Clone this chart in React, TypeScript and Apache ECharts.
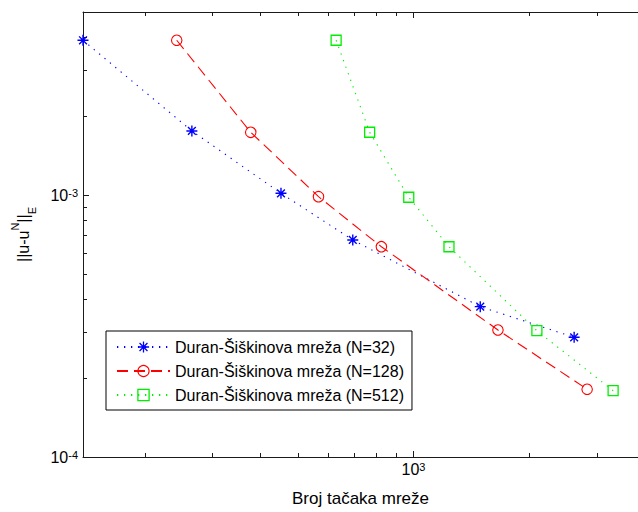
import React, { useEffect, useRef } from 'react';
import * as echarts from 'echarts';

// Axis limits
const X_MIN = 138;
const X_MAX = 3840;
const Y_MIN = 1e-4;
const Y_MAX = 5e-3;

const seriesNames = [
  'Duran-Šiškinova mreža (N=32)',
  'Duran-Šiškinova mreža (N=128)',
  'Duran-Šiškinova mreža (N=512)',
];

// Broj tačaka mreže (x) and error norm (y)
const xN32 = [138, 265, 452, 695, 1492, 2619];
const yN32 = [3.9e-3, 1.757e-3, 1.016e-3, 6.74e-4, 3.75e-4, 2.864e-4];
const xN128 = [242, 377, 566, 825, 1659, 2831];
const yN128 = [3.9e-3, 1.737e-3, 9.86e-4, 6.35e-4, 3.054e-4, 1.814e-4];
const xN512 = [629, 769, 972, 1237, 2095, 3308];
const yN512 = [3.9e-3, 1.737e-3, 9.81e-4, 6.35e-4, 3.035e-4, 1.791e-4];

// Tick values
const xMajorTicks = [1000];
const xMinorTicks = [200, 300, 400, 500, 600, 700, 800, 900, 2000, 3000];
const yMajorTicks = [1e-4, 1e-3];
const yMinorTicks = [2e-4, 3e-4, 4e-4, 5e-4, 6e-4, 7e-4, 8e-4, 9e-4, 2e-3, 3e-3, 4e-3];

const FONT = "'Liberation Sans', Arial, Helvetica, sans-serif";
const AXIS_COLOR = '#1a1a1a';

const STAR_PATH =
  'path://M6 0L6 12M0 6L12 6M1.76 1.76L10.24 10.24M10.24 1.76L1.76 10.24';

function pair(xs: number[], ys: number[]) {
  return xs.map((x, i) => [x, ys[i]]);
}

const powLabel = (v: number) => `{b|10}{e|${Math.round(Math.log10(v))}}`;

const labelRich = {
  b: { fontSize: 16, lineHeight: 16, padding: [7, 0, 7, 0], fontFamily: FONT, color: '#000' },
  e: { fontSize: 11, lineHeight: 12, verticalAlign: 'top', fontFamily: FONT, color: '#000' },
};

export default function App() {
  const ref = useRef<HTMLDivElement>(null);

  useEffect(() => {
    if (!ref.current) return;
    const chart = echarts.init(ref.current, undefined, { renderer: 'svg' });

    const baseX = {
      type: 'log',
      logBase: 10,
      min: X_MIN,
      max: X_MAX,
      gridIndex: 0,
      splitLine: { show: false },
      minorTick: { show: false },
    };
    const baseY = {
      type: 'log',
      logBase: 10,
      min: Y_MIN,
      max: Y_MAX,
      gridIndex: 0,
      splitLine: { show: false },
      minorTick: { show: false },
    };

    const option: any = {
      animation: false,
      backgroundColor: '#fff',
      textStyle: { fontFamily: FONT },
      grid: { left: 83, top: 12, right: 0, bottom: 55, outerBoundsMode: 'none', containLabel: false },
      xAxis: [
        {
          ...baseX,
          position: 'bottom',
          axisLine: { show: true, lineStyle: { color: AXIS_COLOR, width: 1 } },
          axisTick: { show: true, inside: true, length: 6, customValues: xMajorTicks, lineStyle: { color: AXIS_COLOR } },
          axisLabel: {
            show: true,
            customValues: xMajorTicks,
            margin: 4,
            formatter: powLabel,
            rich: labelRich,
          },
          name: 'Broj tačaka mreže',
          nameLocation: 'middle',
          nameGap: 33,
          nameTextStyle: { fontSize: 17, fontFamily: FONT, color: '#000' },
        },
        {
          ...baseX,
          position: 'bottom',
          axisLine: { show: false },
          axisTick: { show: true, inside: true, length: 4, customValues: xMinorTicks, lineStyle: { color: AXIS_COLOR } },
          axisLabel: { show: false },
        },
        {
          ...baseX,
          position: 'top',
          axisLine: { show: true, lineStyle: { color: AXIS_COLOR, width: 1 } },
          axisTick: { show: true, inside: true, length: 6, customValues: xMajorTicks, lineStyle: { color: AXIS_COLOR } },
          axisLabel: { show: false },
        },
        {
          ...baseX,
          position: 'top',
          axisLine: { show: false },
          axisTick: { show: true, inside: true, length: 4, customValues: xMinorTicks, lineStyle: { color: AXIS_COLOR } },
          axisLabel: { show: false },
        },
      ],
      yAxis: [
        {
          ...baseY,
          position: 'left',
          axisLine: { show: true, lineStyle: { color: AXIS_COLOR, width: 1 } },
          axisTick: { show: true, inside: true, length: 6, customValues: yMajorTicks, lineStyle: { color: AXIS_COLOR } },
          axisLabel: {
            show: true,
            customValues: yMajorTicks,
            margin: 5,
            formatter: powLabel,
            rich: labelRich,
          },
          name: '||u-u{sup|N}||{sub|E}',
          nameLocation: 'middle',
          nameGap: 46,
          nameTextStyle: {
            fontSize: 16,
            fontFamily: FONT,
            color: '#000',
            lineHeight: 28,
            rich: {
              sup: { fontSize: 11, lineHeight: 11, verticalAlign: 'top', fontFamily: FONT, color: '#000' },
              sub: { fontSize: 11, lineHeight: 11, verticalAlign: 'bottom', fontFamily: FONT, color: '#000' },
            },
          },
        },
        {
          ...baseY,
          position: 'left',
          axisLine: { show: false },
          axisTick: { show: true, inside: true, length: 4, customValues: yMinorTicks, lineStyle: { color: AXIS_COLOR } },
          axisLabel: { show: false },
        },
      ],
      legend: {
        orient: 'vertical',
        left: 106,
        top: 331,
        padding: [8, 8, 7, 10],
        itemGap: 8,
        itemWidth: 53,
        itemHeight: 14,
        backgroundColor: '#fff',
        borderColor: '#000',
        borderWidth: 1,
        borderRadius: 0,
        textStyle: { fontSize: 16, lineHeight: 16, fontFamily: FONT, color: '#000' },
        data: [
          { name: seriesNames[0], itemStyle: { color: '#0000ff', borderColor: '#0000ff', borderWidth: 1.3 } },
          { name: seriesNames[1], itemStyle: { color: 'rgba(0,0,0,0)', borderColor: '#ff0000', borderWidth: 1.1 } },
          { name: seriesNames[2], itemStyle: { color: 'rgba(0,0,0,0)', borderColor: '#00ee00', borderWidth: 1.3 } },
        ],
      },
      series: [
        {
          name: seriesNames[0],
          type: 'line',
          xAxisIndex: 0,
          yAxisIndex: 0,
          data: pair(xN32, yN32),
          symbol: STAR_PATH,
          symbolSize: 11,
          showAllSymbol: true,
          clip: false,
          lineStyle: { color: '#0000ff', width: 1.1, type: [1.3, 5.7] },
          itemStyle: { color: '#0000ff', borderColor: '#0000ff', borderWidth: 1.4 },
          emphasis: { disabled: true },
        },
        {
          name: seriesNames[1],
          type: 'line',
          xAxisIndex: 0,
          yAxisIndex: 0,
          data: pair(xN128, yN128),
          symbol: 'circle',
          symbolSize: 10.5,
          showAllSymbol: true,
          clip: false,
          lineStyle: { color: '#ff0000', width: 1.1, type: [11, 6] },
          itemStyle: { color: 'rgba(0,0,0,0)', borderColor: '#ff0000', borderWidth: 1.1 },
          emphasis: { disabled: true },
        },
        {
          name: seriesNames[2],
          type: 'line',
          xAxisIndex: 0,
          yAxisIndex: 0,
          data: pair(xN512, yN512),
          symbol: 'rect',
          symbolSize: 10,
          showAllSymbol: true,
          clip: false,
          lineStyle: { color: '#00ee00', width: 1.1, type: [1.3, 5.7] },
          itemStyle: { color: 'rgba(0,0,0,0)', borderColor: '#00ee00', borderWidth: 1.3 },
          emphasis: { disabled: true },
        },
      ],
    };

    chart.setOption(option);
    return () => {
      chart.dispose();
    };
  }, []);

  return (
    <div
      ref={ref}
      style={{ position: 'fixed', left: 0, top: 0, width: 638, height: 512, background: '#fff' }}
    />
  );
}
